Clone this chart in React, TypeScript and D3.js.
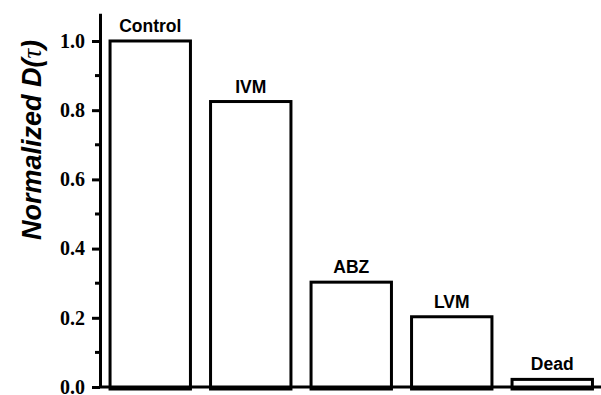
import { useEffect, useRef } from 'react'
import * as d3 from 'd3'

// treatments and their normalized D(tau)
const categories = ['Control', 'IVM', 'ABZ', 'LVM', 'Dead']
const values = [1.0, 0.825, 0.303, 0.203, 0.022]
const majorTicks = [0, 0.2, 0.4, 0.6, 0.8, 1.0]
const minorTicks = [0.1, 0.3, 0.5, 0.7, 0.9]

const serif = "'Liberation Serif', 'Times New Roman', serif"
const sans = "'Liberation Sans', Arial, sans-serif"

export default function App() {
  const ref = useRef<SVGSVGElement>(null)

  useEffect(() => {
    const el = ref.current
    if (!el) return
    const svg = d3.select(el)
    svg.selectAll('*').remove()

    const x = d3.scaleBand().domain(categories).range([100, 602.5]).paddingInner(0.2).paddingOuter(0.1)
    const y = d3.scaleLinear().domain([0, 1.08]).range([387, 13.3])

    // bars
    svg
      .append('g')
      .selectAll('rect')
      .data(values)
      .join('rect')
      .attr('x', (_, i) => x(categories[i])!)
      .attr('y', d => y(d))
      .attr('width', x.bandwidth())
      .attr('height', d => y(0) - y(d) + 2)
      .attr('fill', 'none')
      .attr('stroke', '#000')
      .attr('stroke-width', 3)

    // bar labels
    svg
      .append('g')
      .selectAll('text')
      .data(values)
      .join('text')
      .attr('x', (_, i) => x(categories[i])! + x.bandwidth() / 2)
      .attr('y', d => y(d) - 9)
      .attr('text-anchor', 'middle')
      .style('font-family', sans)
      .attr('font-weight', 'bold')
      .attr('font-size', 17.5)
      .text((_, i) => categories[i])

    // x baseline
    svg.append('line')
      .attr('x1', 100).attr('x2', 601)
      .attr('y1', y(0)).attr('y2', y(0))
      .attr('stroke', '#000').attr('stroke-width', 3)

    // y axis
    const yAxis = svg.append('g').attr('transform', 'translate(100,0)')
    yAxis
      .call(d3.axisLeft(y).tickValues(majorTicks).tickFormat(d3.format('.1f')).tickSize(8).tickPadding(7).tickSizeOuter(0))
      .call(g => g.select('.domain').attr('stroke-width', 3))
      .call(g => g.selectAll('.tick line').attr('stroke-width', 3))
      .call(g =>
        g.selectAll('.tick text')
          .style('font-family', serif)
          .attr('font-weight', 'bold')
          .attr('font-size', 20)
          .attr('fill', '#000')
      )
    yAxis
      .append('g')
      .selectAll('line')
      .data(minorTicks)
      .join('line')
      .attr('x1', -5).attr('x2', 0)
      .attr('y1', d => y(d)).attr('y2', d => y(d))
      .attr('stroke', '#000').attr('stroke-width', 3)

    // y title
    const title = svg
      .append('text')
      .attr('transform', `translate(41,${140}) rotate(-90)`)
      .attr('text-anchor', 'middle')
      .style('font-family', sans)
      .attr('font-weight', 'bold')
      .attr('font-style', 'italic')
      .attr('font-size', 27)
    title.append('tspan').text('Normalized D(')
    title.append('tspan')
      .style('font-family', serif)
      .attr('font-weight', 'normal')
      .text('τ')
    title.append('tspan').text(')')
  }, [])

  return (
    <svg
      ref={ref}
      width={601}
      height={395}
      style={{ position: 'absolute', left: 0, top: 0, background: '#fff' }}
    />
  )
}
